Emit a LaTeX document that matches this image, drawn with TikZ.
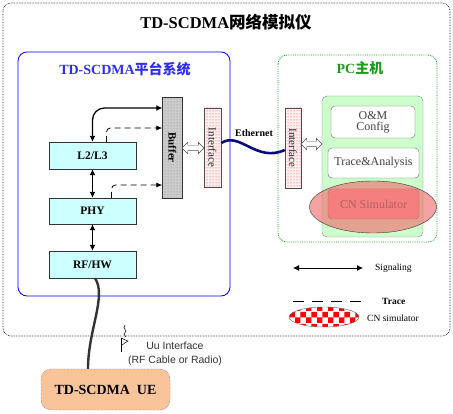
\documentclass[tikz,border=0pt]{standalone}
\usepackage{fontspec}
\setmainfont{Liberation Serif}
\newfontfamily\cjk{Noto Sans CJK SC}
\newfontfamily\uufont{Liberation Sans}
\usepackage{graphicx}
\usepackage{tikz}
\usetikzlibrary{shapes.geometric, shapes.arrows, arrows.meta, patterns}

\definecolor{layerfill}{HTML}{CCFFFF}
\definecolor{pcfill}{HTML}{CCFFCC}
\definecolor{uefill}{HTML}{F9C49A}
\definecolor{cnfill}{HTML}{FF9A9A}
\definecolor{cnoval}{HTML}{F07070}
\definecolor{platblue}{HTML}{0000FF}
\definecolor{titleblue}{HTML}{2E2EF0}
\definecolor{pcgreen}{HTML}{1E9A1E}
\definecolor{ethnavy}{HTML}{0A0A80}

\tikzset{
  layerbox/.style={draw=black!80, fill=layerfill, minimum width=87pt, minimum height=27pt,
    inner sep=0pt, font=\fontsize{11.5}{12}\selectfont\bfseries},
  bufbox/.style={draw=black!80, preaction={fill=black!20}, pattern=dots,
    pattern color=black!45, minimum width=20pt, minimum height=101pt, inner sep=0pt,
    font=\fontsize{11}{12}\selectfont\bfseries},
  portbox/.style={draw=black!70, preaction={fill=red!6}, pattern=dots, pattern color=red!85,
    minimum width=17pt, minimum height=79pt, inner sep=0pt,
    font=\fontsize{11}{12}\selectfont, text=black!85},
  appbox/.style={draw=black!60, fill=white, rounded corners=4pt, minimum width=91pt,
    minimum height=30pt, inner sep=0pt, align=center, text=black!75,
    font=\fontsize{12}{13}\selectfont},
  hollow/.style={double arrow, draw=black!70, fill=white, double arrow head extend=3pt,
    text height=5pt, text depth=0pt, text width=0pt, inner sep=0pt, minimum height=22pt},
  sig/.style={line width=1.3pt, {Latex[length=6pt,width=6pt]}-{Latex[length=6pt,width=6pt]}},
  trc/.style={line width=0.8pt, dash pattern=on 6pt off 4pt, -{Latex[length=6pt,width=5pt]}},
  legtext/.style={anchor=west, inner sep=0pt, font=\fontsize{9.5}{10}\selectfont},
  uutext/.style={inner sep=0pt, font=\uufont\fontsize{10.5}{11}\selectfont, text=black!80},
}

\begin{document}
\begin{tikzpicture}[x=1pt,y=-1pt]
\useasboundingbox (0,0) rectangle (453,414);

% frames
\draw[densely dotted, line width=0.6pt, rounded corners=8pt] (3,3) rectangle (450,336);
\draw[platblue, line width=0.8pt, rounded corners=9pt] (18,52) rectangle (230,296);
\draw[pcgreen, densely dotted, line width=0.8pt, rounded corners=9pt] (278,55) rectangle (437,242);

\node[font=\fontsize{16.5}{18}\selectfont\bfseries] (title) at (226,22) {TD-SCDMA{\cjk 网络模拟仪}};
\node[font=\fontsize{14}{15}\selectfont\bfseries, text=titleblue] (plattitle) at (125,69) {TD-SCDMA{\cjk 平台系统}};
\node[font=\fontsize{14}{15}\selectfont\bfseries, text=pcgreen] (pctitle) at (360,68) {PC{\cjk 主机}};

% protocol stack
\node[layerbox] (l23) at (92.5,155.5) {L2/L3};
\node[layerbox, minimum height=26pt] (phy) at (92.5,211) {PHY};
\node[layerbox] (rfhw) at (92.5,264.5) {RF/HW};

\node[bufbox] (buf) at (172.5,147.5) {\rotatebox{-90}{Buffer}};
\node[portbox] (ifl) at (212.5,147.5) {\rotatebox{-90}{Interface}};
\node[portbox, minimum width=16pt, minimum height=80pt] (ifr) at (293,148) {\rotatebox{-90}{Interface}};

% pc side
\node[draw=black!50, fill=pcfill, rounded corners=5pt, minimum width=101pt, minimum height=141pt] (pcin) at (372.5,166.5) {};
\node[appbox, minimum width=84pt, minimum height=32pt] (om) at (373,122) {O\&M\\[-2pt]Config};
\node[appbox] (ta) at (373.5,163) {Trace\&Analysis};
\node[appbox, fill=cnfill, draw=black!70] (cn) at (373.5,204) {CN Simulator};
\node[ellipse, draw=black!80, fill=cnoval, fill opacity=0.65, minimum width=127pt, minimum height=52pt] (cnoval) at (373,207) {};

% links
\draw[sig] (l23.south) -- (phy.north);
\draw[sig] (phy.south) -- (rfhw.north);
\draw[sig, rounded corners=12pt] (l23.north) |- ([yshift=39.5pt]buf.west);
\draw[trc, rounded corners=4pt] ([xshift=14pt]l23.north) |- ([yshift=19.5pt]buf.west);
\draw[trc, rounded corners=4pt] ([xshift=19pt]phy.north) |- ([yshift=-37.5pt]buf.west);

\node[hollow] (bufport) at (193,148) {};
\node[hollow, minimum height=21pt] (portpc) at (311.5,144) {};

\draw[ethnavy, line width=2.6pt] ([yshift=4.5pt]ifl.east) .. controls (240,131) and (256,163) .. ([yshift=-2pt]ifr.west);
\node[font=\fontsize{10}{10}\selectfont\bfseries, inner sep=0pt] (eth) at (254,133) {Ethernet};

% UE
\node[draw=black!70, densely dotted, fill=uefill, rounded corners=10pt, minimum width=129pt, minimum height=41pt,
  font=\fontsize{14}{15}\selectfont\bfseries] (ue) at (105.5,389.5) {TD-SCDMA\ \ UE};
\draw[black!80, line width=2.4pt] ([xshift=2.5pt]rfhw.south) .. controls (107,296) and (88,330) .. ([xshift=-17.5pt]ue.north);

% air interface
\draw[line width=0.5pt] (125,325) -- (124,328) -- (126,331) -- (124,334) -- (126,337);
\draw[line width=0.5pt] (121,338) -- (121,352);
\draw[line width=0.5pt] (121,338) -- (128,341) -- (122,345);
\node[uutext] (uu) at (175,346) {Uu Interface};
\node[uutext] (uurf) at (175,361) {(RF Cable or Radio)};

% legend
\coordinate (sigA) at (293,268);
\coordinate (sigB) at (363,268);
\draw[sig, line width=0.8pt] (sigA) -- (sigB);
\node[legtext] (sigtxt) at (375,268) {Signaling};
\coordinate (trA) at (293,301);
\coordinate (trB) at (363,301);
\draw[line width=0.8pt, dash pattern=on 11pt off 8pt] (trA) -- (trB);
\node[legtext, font=\fontsize{9.5}{10}\selectfont\bfseries] (trtxt) at (382,301) {Trace};
\node[ellipse, draw=black!60, preaction={fill=white}, pattern=checkerboard, pattern color=red,
  minimum width=70pt, minimum height=20pt] (cnleg) at (324,317) {};
\node[legtext] (cntxt) at (367,318) {CN simulator};
\end{tikzpicture}
\end{document}
